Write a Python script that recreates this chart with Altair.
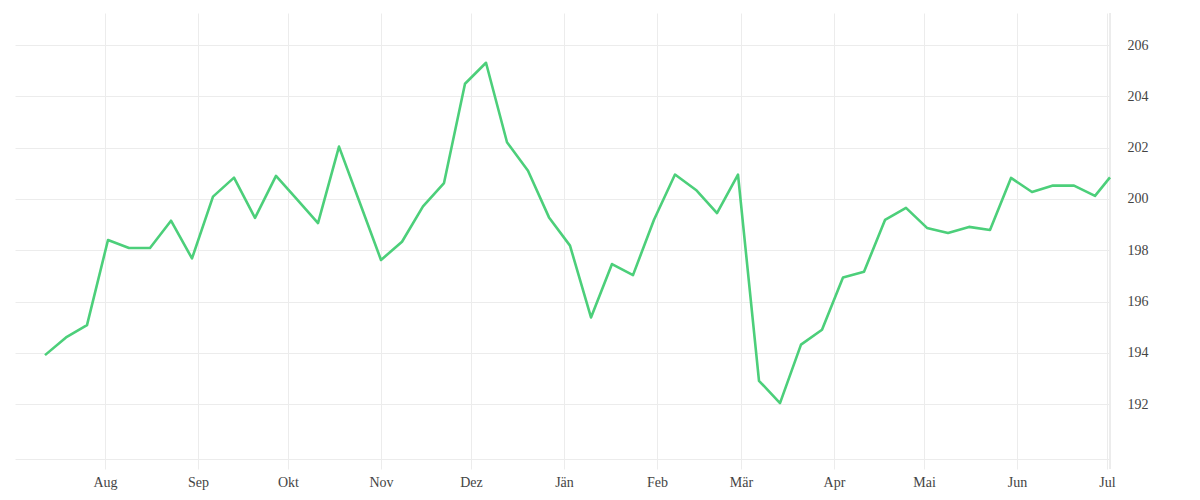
import altair as alt
import pandas as pd

# ---- data ----
start_date = "2022-07-12"
n_weekly = 51
last_date = "2023-07-02"

values = [
    193.91, 194.60, 195.08, 198.40, 198.09, 198.09, 199.15, 197.68, 200.09, 200.83,
    199.26, 200.90, 199.98, 199.06, 202.04, 199.83, 197.62, 198.33, 199.71, 200.62,
    204.49, 205.31, 202.21, 201.10, 199.28, 198.18, 195.38, 197.46, 197.03, 199.19,
    200.95, 200.35, 199.45, 200.95, 192.91, 192.04, 194.32, 194.90, 196.94, 197.16,
    199.18, 199.65, 198.87, 198.67, 198.91, 198.79, 200.82, 200.27, 200.52, 200.52,
    200.12, 200.84,
]

month_labels = ["Jän", "Feb", "Mär", "Apr", "Mai", "Jun",
                "Jul", "Aug", "Sep", "Okt", "Nov", "Dez"]

y_ticks = [192, 194, 196, 198, 200, 202, 204, 206]

dates = list(pd.date_range(start_date, periods=n_weekly, freq="7D")) + [pd.Timestamp(last_date)]
df = pd.DataFrame({"date": dates, "value": values})

W, H = 1095, 446
GRID = "#ececec"
FONT = "Liberation Serif"

label_expr = "[" + ",".join(f"'{m}'" for m in month_labels) + "][month(datum.value)]"

line = alt.Chart(df).mark_line(color="#4ccf7a", strokeWidth=2.6, strokeJoin="round").encode(
    x=alt.X(
        "date:T",
        scale=alt.Scale(domain=[alt.DateTime(year=2022, month=7, date=2),
                                alt.DateTime(year=2023, month=7, date=2)]),
        axis=alt.Axis(
            title=None,
            tickCount={"interval": "month", "step": 1},
            labelExpr=label_expr,
            grid=True, gridColor=GRID, gridWidth=1,
            ticks=True, tickSize=10, tickColor=GRID, tickWidth=1,
            domain=True, domainColor=GRID, domainWidth=1,
            labelFont=FONT, labelFontSize=14, labelColor="#444444",
            labelPadding=6, labelAlign="center",
        ),
    ),
    y=alt.Y(
        "value:Q",
        scale=alt.Scale(domain=[189.86, 207.25], nice=False, zero=False),
        axis=alt.Axis(
            title=None, orient="right", values=y_ticks,
            grid=True, gridColor=GRID, gridWidth=1,
            ticks=False, domain=False,
            labelFont=FONT, labelFontSize=14, labelColor="#444444",
            labelPadding=17,
        ),
    ),
)

edge = alt.Chart(df).mark_rule(color=GRID, strokeWidth=1).encode(
    x=alt.value(W), y=alt.value(0), y2=alt.value(H + 10)
)

chart = alt.layer(edge, line).properties(
    width=W, height=H,
    padding={"left": 7, "top": 4, "right": 5, "bottom": 5},
    background="white",
).configure_view(stroke=None)

chart.save("out.html", embed_options={"renderer": "svg", "actions": False})
